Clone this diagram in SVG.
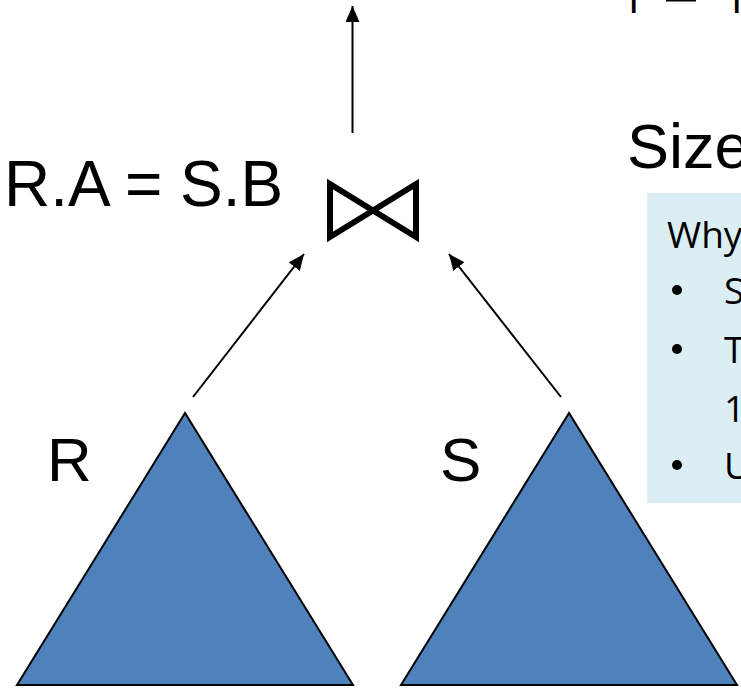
<svg xmlns="http://www.w3.org/2000/svg" width="741" height="691" viewBox="0 0 741 691">
<style>
.lbl{font-family:"Liberation Sans",Arial,sans-serif;fill:#000}
.box{font-family:"Open Sans","Liberation Sans",sans-serif;fill:#000;font-size:37px}
.tri{fill:#4F81BD;stroke:#000;stroke-width:2;stroke-linejoin:miter}
.edge{stroke:#000;stroke-width:2;fill:none}
</style>
<defs>
<marker id="ah" viewBox="0 0 16 14" refX="16" refY="7" markerWidth="16" markerHeight="14" markerUnits="userSpaceOnUse" orient="auto">
<path d="M0,0 L16,7 L0,14 Z" fill="#000"/>
</marker>
</defs>
<rect width="741" height="691" fill="#fff"/>
<g id="top-formula">
<text class="lbl" x="628" y="4" font-size="44">|</text>
<rect x="666" y="0" width="30" height="1.5" fill="#000"/>
<text class="lbl" x="731" y="4" font-size="44">|</text>
</g>
<g id="size-title">
<text class="lbl" x="627" y="168" font-size="63">Size</text>
</g>
<g id="info-box">
<rect x="647" y="193" width="100" height="310" fill="#DAEEF3"/>
<text class="box" x="667" y="248">Why</text>
<circle cx="677" cy="290" r="5" fill="#000"/>
<text class="box" x="724" y="304">S</text>
<circle cx="677" cy="349" r="5" fill="#000"/>
<text class="box" x="724" y="363">T</text>
<text class="box" x="724" y="422">1</text>
<circle cx="677" cy="465" r="5" fill="#000"/>
<text class="box" x="724" y="479">U</text>
</g>
<g id="connectors">
<line class="edge" x1="352.5" y1="133" x2="352.5" y2="6" marker-end="url(#ah)"/>
<line class="edge" x1="193" y1="397" x2="304" y2="254" marker-end="url(#ah)"/>
<line class="edge" x1="561" y1="397" x2="449" y2="254" marker-end="url(#ah)"/>
</g>
<g id="join">
<path d="M330,184 L416,237 L416,184 L330,237 Z" fill="none" stroke="#000" stroke-width="6" stroke-linejoin="miter"/>
<text class="lbl" x="4" y="206" font-size="64">R.A = S.B</text>
</g>
<g id="R">
<polygon class="tri" points="185,413 17,685 353,685"/>
<text class="lbl" x="47" y="481" font-size="62">R</text>
</g>
<g id="S">
<polygon class="tri" points="569,413 401,685 737,685"/>
<text class="lbl" x="440" y="481" font-size="62">S</text>
</g>
</svg>
